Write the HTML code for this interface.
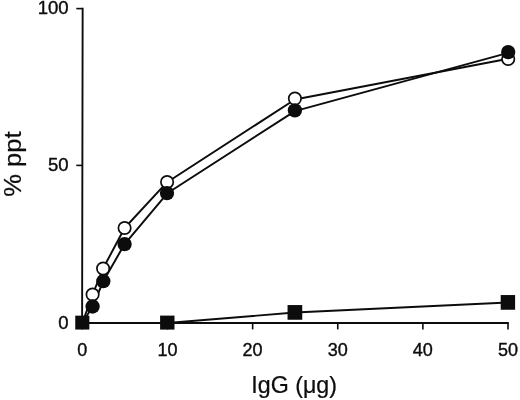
<!DOCTYPE html>
<html><head><meta charset="utf-8"><title>IgG precipitation</title>
<style>
html,body{margin:0;padding:0;background:#fff;}
body{width:520px;height:400px;overflow:hidden;}
svg{display:block;}
text{font-family:"Liberation Sans",sans-serif;fill:#0c0c0c;stroke:#0c0c0c;stroke-width:0.38px;stroke-linejoin:round;}
.tick{font-size:18px;}
.title{font-size:23px;stroke-width:0.22px;}
.ytitle{font-size:24.6px;stroke-width:0.22px;}
</style></head><body>
<svg width="520" height="400" viewBox="0 0 520 400" xmlns="http://www.w3.org/2000/svg">
<rect x="0" y="0" width="520" height="400" fill="#fff"/>

<g stroke="#0c0c0c" stroke-width="1.9" fill="none" stroke-linecap="butt">
<path d="M82.65 7.80 L82.10 323.05 H508.80" stroke-linejoin="miter"/>
</g>
<g stroke="#0c0c0c" stroke-width="1.6" fill="none" stroke-linecap="butt">
<path d="M76.3 323.05 H82.40"/>
<path d="M76.3 165.40 H82.40"/>
<path d="M76.3 8.60 H82.40"/>
<path d="M82.40 323.05 V329.4"/>
<path d="M167.52 323.05 V329.4"/>
<path d="M252.64 323.05 V329.4"/>
<path d="M337.76 323.05 V329.4"/>
<path d="M422.88 323.05 V329.4"/>
<path d="M508.00 323.05 V329.4"/>
</g>
<g stroke="#0c0c0c" stroke-width="1.95" fill="none" stroke-linejoin="round">
<polyline points="82.30,323.05 167.30,323.05 294.90,312.50 507.90,302.50"/>
<polyline points="82.30,323.00 92.60,294.50 103.10,268.50 124.60,228.00 167.10,182.20 294.90,99.50 508.20,58.70"/>
<polyline points="82.30,323.00 92.60,306.50 103.30,281.20 124.60,244.10 167.30,193.30 294.90,111.10 508.20,52.90"/>
</g>
<g fill="#fff" stroke="#0c0c0c" stroke-width="1.7">
<circle cx="92.60" cy="294.50" r="6.2"/>
<circle cx="103.10" cy="268.50" r="6.2"/>
<circle cx="124.60" cy="228.00" r="6.2"/>
<circle cx="167.10" cy="182.00" r="6.2"/>
<circle cx="294.90" cy="98.60" r="6.2"/>
<circle cx="508.20" cy="58.90" r="6.2"/>
</g>
<g fill="#0c0c0c">
<circle cx="92.60" cy="306.50" r="7.15"/>
<circle cx="103.30" cy="281.20" r="7.15"/>
<circle cx="124.60" cy="244.10" r="7.15"/>
<circle cx="167.00" cy="193.10" r="7.15"/>
<circle cx="294.90" cy="110.40" r="7.15"/>
<circle cx="508.20" cy="52.10" r="7.15"/>
<rect x="75.25" y="315.65" width="14.1" height="13.9"/>
<rect x="160.10" y="315.60" width="14.4" height="14.0"/>
<rect x="287.55" y="305.05" width="14.7" height="14.7"/>
<rect x="500.70" y="295.05" width="14.4" height="14.7"/>
</g>
<text class="tick" transform="translate(68.6 14.40) scale(1.03 1)" text-anchor="end">100</text>
<text class="tick" transform="translate(68.6 171.20) scale(1.03 1)" text-anchor="end">50</text>
<text class="tick" transform="translate(68.6 328.85) scale(1.03 1)" text-anchor="end">0</text>
<text class="tick" transform="translate(82.30 356) scale(1.0 1)" text-anchor="middle">0</text>
<text class="tick" transform="translate(167.42 356) scale(1.0 1)" text-anchor="middle">10</text>
<text class="tick" transform="translate(252.54 356) scale(1.0 1)" text-anchor="middle">20</text>
<text class="tick" transform="translate(337.66 356) scale(1.0 1)" text-anchor="middle">30</text>
<text class="tick" transform="translate(422.78 356) scale(1.0 1)" text-anchor="middle">40</text>
<text class="tick" transform="translate(507.90 356) scale(1.0 1)" text-anchor="middle">50</text>
<text class="title" transform="translate(294.1 393) scale(1.01 1)" text-anchor="middle">IgG (μg)</text>
<text class="ytitle" transform="translate(21.4 164.1) rotate(-90) scale(1.038 1)" text-anchor="middle">% ppt</text>
</svg></body></html>
